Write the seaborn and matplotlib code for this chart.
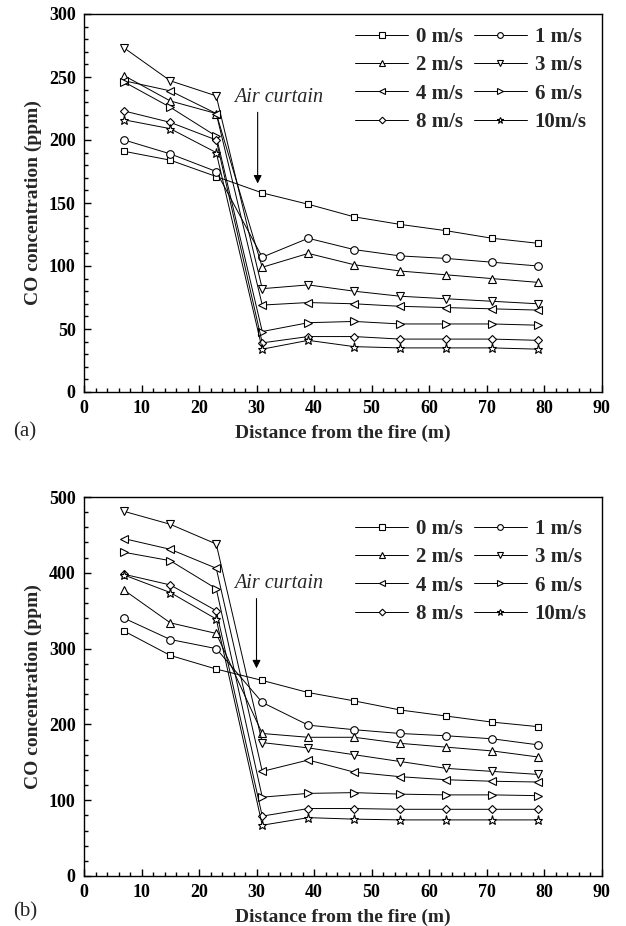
import numpy as np
import pandas as pd
import seaborn as sns
import matplotlib
matplotlib.use("Agg")
import matplotlib.pyplot as plt
from matplotlib.ticker import MultipleLocator

# ---------------- data ----------------
distance = [7, 15, 23, 31, 39, 47, 55, 63, 71, 79]
speeds = ["0 m/s", "1 m/s", "2 m/s", "3 m/s", "4 m/s", "6 m/s", "8 m/s", "10m/s"]

co_a_0 = [191, 184, 171, 158, 149, 139, 133, 128, 122, 118]
co_a_1 = [200, 189, 175, 107, 122, 113, 108, 106, 103, 100]
co_a_2 = [251, 231, 221, 99, 110, 101, 96, 93, 90, 87]
co_a_3 = [273, 247, 235, 82, 85, 80, 76, 74, 72, 70]
co_a_4 = [247, 239, 221, 69, 71, 70, 68, 67, 66, 65]
co_a_6 = [246, 226, 203, 48, 55, 56, 54, 54, 54, 53]
co_a_8 = [223, 214, 200, 39, 44, 44, 42, 42, 42, 41]
co_a_10 = [216, 209, 190, 34, 41, 36, 35, 35, 35, 34]

co_b_0 = [323, 291, 273, 258, 242, 231, 219, 211, 203, 197]
co_b_1 = [340, 312, 300, 229, 199, 193, 188, 185, 181, 173]
co_b_2 = [377, 334, 320, 188, 183, 183, 175, 170, 165, 157]
co_b_3 = [481, 464, 438, 176, 169, 160, 151, 142, 138, 134]
co_b_4 = [445, 431, 406, 138, 153, 137, 131, 127, 125, 124]
co_b_6 = [427, 416, 379, 104, 109, 110, 108, 107, 107, 106]
co_b_8 = [398, 384, 350, 79, 89, 89, 88, 88, 88, 88]
co_b_10 = [397, 374, 339, 67, 77, 75, 74, 74, 74, 74]

series_a = [co_a_0, co_a_1, co_a_2, co_a_3, co_a_4, co_a_6, co_a_8, co_a_10]
series_b = [co_b_0, co_b_1, co_b_2, co_b_3, co_b_4, co_b_6, co_b_8, co_b_10]

xticks = [0, 10, 20, 30, 40, 50, 60, 70, 80, 90]
yticks_a = [0, 50, 100, 150, 200, 250, 300]
yticks_b = [0, 100, 200, 300, 400, 500]

markers = ["s", "o", "^", "v", "<", ">", "D", "*"]
msizes = [5, 5.5, 6, 6, 6, 6, 4.5, 6.5]

# ---------------- style ----------------
sns.set_style("ticks")
plt.rcParams["font.family"] = ["Liberation Serif", "DejaVu Serif"]
plt.rcParams["font.weight"] = "bold"
plt.rcParams["axes.labelweight"] = "bold"
plt.rcParams["axes.linewidth"] = 1.0
plt.rcParams["axes.edgecolor"] = "black"
plt.rcParams["xtick.color"] = "black"
plt.rcParams["ytick.color"] = "black"

fig = plt.figure(figsize=(6.26, 9.26), dpi=100)
left, right = 84 / 626, 601.5 / 626
ax_a = fig.add_axes([left, 1 - 392 / 926, right - left, (392 - 14) / 926])
ax_b = fig.add_axes([left, 1 - 876 / 926, right - left, (876 - 497) / 926])


def draw(ax, series, yticks, ymax, ystep_minor, arrow, text_xy, leg_anchor, panel, panel_y):
    for lab, vals, m, ms in zip(speeds, series, markers, msizes):
        df = pd.DataFrame({"Distance": distance, "CO": vals})
        sns.lineplot(data=df, x="Distance", y="CO", ax=ax, color="black",
                     linewidth=0.7, marker=m, markersize=ms,
                     markerfacecolor="white", markeredgecolor="black",
                     markeredgewidth=0.8, label=lab, legend=False, errorbar=None)
    ax.set_xlim(0, 90)
    ax.set_ylim(0, ymax)
    ax.set_xticks(xticks)
    ax.set_yticks(yticks)
    ax.xaxis.set_minor_locator(MultipleLocator(2))
    ax.yaxis.set_minor_locator(MultipleLocator(ystep_minor))
    ax.tick_params(which="both", direction="in", top=False, right=False,
                   labelsize=13, width=1.0, pad=6)
    ax.tick_params(which="major", length=5)
    ax.tick_params(which="minor", length=3)
    for t in ax.get_xticklabels() + ax.get_yticklabels():
        t.set_fontweight("bold")
    ax.set_xlabel("Distance from the fire (m)", fontsize=14, fontweight="bold", labelpad=5)
    ax.set_ylabel("CO concentration (ppm)", fontsize=14, fontweight="bold", labelpad=5)
    for s in ax.spines.values():
        s.set_visible(True)
        s.set_linewidth(1.0)
    ax.annotate("", xy=(arrow[0], arrow[2]), xytext=(arrow[0], arrow[1]),
                arrowprops=dict(arrowstyle="-|>", color="black", lw=0.8,
                                mutation_scale=12, shrinkA=0, shrinkB=0))
    ax.text(text_xy[0], text_xy[1], "Air curtain", fontsize=14.5, fontstyle="italic",
            fontweight="normal", ha="center", va="center")
    handles, labels = ax.get_legend_handles_labels()
    # row-major order for a 2-column legend
    order = list(range(0, len(handles), 2)) + list(range(1, len(handles), 2))
    ax.legend([handles[i] for i in order], [labels[i] for i in order],
              ncol=2, loc="upper left", bbox_to_anchor=leg_anchor,
              frameon=False, borderpad=0, borderaxespad=0, handlelength=2.55,
              handletextpad=0.38, columnspacing=0.5, labelspacing=0.4,
              markerscale=0.75, prop={"weight": "bold", "size": 15})
    fig.text(25 / 626, 1 - panel_y / 926, panel, fontsize=15, fontweight="normal",
             ha="center", va="center")


draw(ax_a, series_a, yticks_a, 300, 10, (30.2, 222, 165.5), (33.8, 233.5),
     (0.524, 0.966), "(a)", 432)
draw(ax_b, series_b, yticks_b, 500, 20, (30.0, 366, 274), (33.8, 386),
     (0.524, 0.942), "(b)", 912)

fig.savefig("out.png", dpi=100)
